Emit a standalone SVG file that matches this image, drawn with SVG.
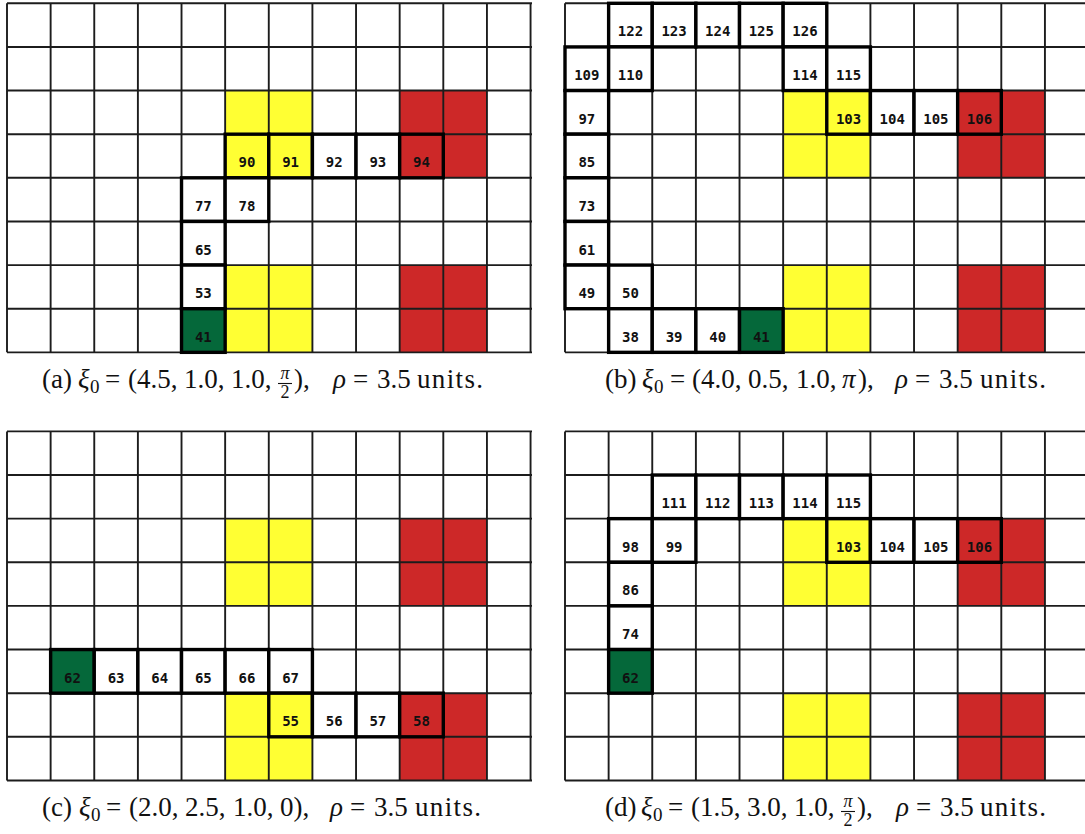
<svg xmlns="http://www.w3.org/2000/svg" xmlns:xlink="http://www.w3.org/1999/xlink" width="1085" height="834" viewBox="0 0 1085 834">
<style>
.gl{stroke:#1c1c1c;stroke-width:1.9;fill:none}
.yl{fill:#ffff33}
.rd{fill:#cd2828}
.gr{fill:#05683a}
.wh{fill:#ffffff}
.pc{stroke:#000;stroke-width:3.4}
.lb{font-family:"DejaVu Sans Mono",monospace;font-weight:bold;font-size:14px;fill:#111;text-anchor:middle}
.cap{font-family:"Liberation Serif","Times New Roman",serif;font-size:27px;fill:#111}
.it{font-style:italic}
.sb{font-size:19px}
.fr{font-size:18px;text-anchor:middle}
.bar{stroke:#111;stroke-width:1.1}
</style>
<defs>
<g id="env">
<rect class="yl" x="218.15" y="87.26" width="87.26" height="87.26"/>
<rect class="yl" x="218.15" y="261.78" width="87.26" height="87.26"/>
<rect class="rd" x="392.67" y="87.26" width="87.26" height="87.26"/>
<rect class="rd" x="392.67" y="261.78" width="87.26" height="87.26"/>
<path class="gl" d="M0 0H560M0 43.63H560M0 87.26H560M0 130.89H560M0 174.52H560M0 218.15H560M0 261.78H560M0 305.41H560M0 349.04H560
M0 0V349.04M43.63 0V349.04M87.26 0V349.04M130.89 0V349.04M174.52 0V349.04M218.15 0V349.04M261.78 0V349.04M305.41 0V349.04M349.04 0V349.04M392.67 0V349.04M436.3 0V349.04M479.93 0V349.04M523.56 0V349.04"/>
</g>
<clipPath id="clipL"><rect x="-2" y="-2" width="527" height="354"/></clipPath>
</defs>

<!-- Panel (a) -->
<g id="panel-a" transform="translate(7,3.3)">
<use xlink:href="#env" clip-path="url(#clipL)"/>
<g id="a-90"><rect class="pc yl" x="218.15" y="130.89" width="43.63" height="43.63"/><text class="lb" x="239.97" y="164">90</text></g>
<g id="a-91"><rect class="pc yl" x="261.78" y="130.89" width="43.63" height="43.63"/><text class="lb" x="283.6" y="164">91</text></g>
<g id="a-92"><rect class="pc wh" x="305.41" y="130.89" width="43.63" height="43.63"/><text class="lb" x="327.23" y="164">92</text></g>
<g id="a-93"><rect class="pc wh" x="349.04" y="130.89" width="43.63" height="43.63"/><text class="lb" x="370.86" y="164">93</text></g>
<g id="a-94"><rect class="pc rd" x="392.67" y="130.89" width="43.63" height="43.63"/><text class="lb" x="414.49" y="164">94</text></g>
<g id="a-77"><rect class="pc wh" x="174.52" y="174.52" width="43.63" height="43.63"/><text class="lb" x="196.34" y="207.6">77</text></g>
<g id="a-78"><rect class="pc wh" x="218.15" y="174.52" width="43.63" height="43.63"/><text class="lb" x="239.97" y="207.6">78</text></g>
<g id="a-65"><rect class="pc wh" x="174.52" y="218.15" width="43.63" height="43.63"/><text class="lb" x="196.34" y="251.3">65</text></g>
<g id="a-53"><rect class="pc wh" x="174.52" y="261.78" width="43.63" height="43.63"/><text class="lb" x="196.34" y="294.9">53</text></g>
<g id="a-41"><rect class="pc gr" x="174.52" y="305.41" width="43.63" height="43.63"/><text class="lb" x="196.34" y="338.5">41</text></g>
</g>

<!-- Panel (b) -->
<g id="panel-b" transform="translate(565,3.3)">
<use xlink:href="#env"/>
<g id="b-122"><rect class="pc wh" x="43.63" y="0" width="43.63" height="43.63"/><text class="lb" x="65.45" y="33.1">122</text></g>
<g id="b-123"><rect class="pc wh" x="87.26" y="0" width="43.63" height="43.63"/><text class="lb" x="109.08" y="33.1">123</text></g>
<g id="b-124"><rect class="pc wh" x="130.89" y="0" width="43.63" height="43.63"/><text class="lb" x="152.71" y="33.1">124</text></g>
<g id="b-125"><rect class="pc wh" x="174.52" y="0" width="43.63" height="43.63"/><text class="lb" x="196.34" y="33.1">125</text></g>
<g id="b-126"><rect class="pc wh" x="218.15" y="0" width="43.63" height="43.63"/><text class="lb" x="239.97" y="33.1">126</text></g>
<g id="b-109"><rect class="pc wh" x="0" y="43.63" width="43.63" height="43.63"/><text class="lb" x="21.82" y="76.7">109</text></g>
<g id="b-110"><rect class="pc wh" x="43.63" y="43.63" width="43.63" height="43.63"/><text class="lb" x="65.45" y="76.7">110</text></g>
<g id="b-114"><rect class="pc wh" x="218.15" y="43.63" width="43.63" height="43.63"/><text class="lb" x="239.97" y="76.7">114</text></g>
<g id="b-115"><rect class="pc wh" x="261.78" y="43.63" width="43.63" height="43.63"/><text class="lb" x="283.6" y="76.7">115</text></g>
<g id="b-97"><rect class="pc wh" x="0" y="87.26" width="43.63" height="43.63"/><text class="lb" x="21.82" y="120.4">97</text></g>
<g id="b-103"><rect class="pc yl" x="261.78" y="87.26" width="43.63" height="43.63"/><text class="lb" x="283.6" y="120.4">103</text></g>
<g id="b-104"><rect class="pc wh" x="305.41" y="87.26" width="43.63" height="43.63"/><text class="lb" x="327.23" y="120.4">104</text></g>
<g id="b-105"><rect class="pc wh" x="349.04" y="87.26" width="43.63" height="43.63"/><text class="lb" x="370.86" y="120.4">105</text></g>
<g id="b-106"><rect class="pc rd" x="392.67" y="87.26" width="43.63" height="43.63"/><text class="lb" x="414.49" y="120.4">106</text></g>
<g id="b-85"><rect class="pc wh" x="0" y="130.89" width="43.63" height="43.63"/><text class="lb" x="21.82" y="164">85</text></g>
<g id="b-73"><rect class="pc wh" x="0" y="174.52" width="43.63" height="43.63"/><text class="lb" x="21.82" y="207.6">73</text></g>
<g id="b-61"><rect class="pc wh" x="0" y="218.15" width="43.63" height="43.63"/><text class="lb" x="21.82" y="251.3">61</text></g>
<g id="b-49"><rect class="pc wh" x="0" y="261.78" width="43.63" height="43.63"/><text class="lb" x="21.82" y="294.9">49</text></g>
<g id="b-50"><rect class="pc wh" x="43.63" y="261.78" width="43.63" height="43.63"/><text class="lb" x="65.45" y="294.9">50</text></g>
<g id="b-38"><rect class="pc wh" x="43.63" y="305.41" width="43.63" height="43.63"/><text class="lb" x="65.45" y="338.5">38</text></g>
<g id="b-39"><rect class="pc wh" x="87.26" y="305.41" width="43.63" height="43.63"/><text class="lb" x="109.08" y="338.5">39</text></g>
<g id="b-40"><rect class="pc wh" x="130.89" y="305.41" width="43.63" height="43.63"/><text class="lb" x="152.71" y="338.5">40</text></g>
<g id="b-41"><rect class="pc gr" x="174.52" y="305.41" width="43.63" height="43.63"/><text class="lb" x="196.34" y="338.5">41</text></g>
</g>

<!-- Panel (c) -->
<g id="panel-c" transform="translate(7,431.4)">
<use xlink:href="#env" clip-path="url(#clipL)"/>
<g id="c-62"><rect class="pc gr" x="43.63" y="218.15" width="43.63" height="43.63"/><text class="lb" x="65.45" y="251.3">62</text></g>
<g id="c-63"><rect class="pc wh" x="87.26" y="218.15" width="43.63" height="43.63"/><text class="lb" x="109.08" y="251.3">63</text></g>
<g id="c-64"><rect class="pc wh" x="130.89" y="218.15" width="43.63" height="43.63"/><text class="lb" x="152.71" y="251.3">64</text></g>
<g id="c-65"><rect class="pc wh" x="174.52" y="218.15" width="43.63" height="43.63"/><text class="lb" x="196.34" y="251.3">65</text></g>
<g id="c-66"><rect class="pc wh" x="218.15" y="218.15" width="43.63" height="43.63"/><text class="lb" x="239.97" y="251.3">66</text></g>
<g id="c-67"><rect class="pc wh" x="261.78" y="218.15" width="43.63" height="43.63"/><text class="lb" x="283.6" y="251.3">67</text></g>
<g id="c-55"><rect class="pc yl" x="261.78" y="261.78" width="43.63" height="43.63"/><text class="lb" x="283.6" y="294.9">55</text></g>
<g id="c-56"><rect class="pc wh" x="305.41" y="261.78" width="43.63" height="43.63"/><text class="lb" x="327.23" y="294.9">56</text></g>
<g id="c-57"><rect class="pc wh" x="349.04" y="261.78" width="43.63" height="43.63"/><text class="lb" x="370.86" y="294.9">57</text></g>
<g id="c-58"><rect class="pc rd" x="392.67" y="261.78" width="43.63" height="43.63"/><text class="lb" x="414.49" y="294.9">58</text></g>
</g>

<!-- Panel (d) -->
<g id="panel-d" transform="translate(565,431.4)">
<use xlink:href="#env"/>
<g id="d-111"><rect class="pc wh" x="87.26" y="43.63" width="43.63" height="43.63"/><text class="lb" x="109.08" y="76.7">111</text></g>
<g id="d-112"><rect class="pc wh" x="130.89" y="43.63" width="43.63" height="43.63"/><text class="lb" x="152.71" y="76.7">112</text></g>
<g id="d-113"><rect class="pc wh" x="174.52" y="43.63" width="43.63" height="43.63"/><text class="lb" x="196.34" y="76.7">113</text></g>
<g id="d-114"><rect class="pc wh" x="218.15" y="43.63" width="43.63" height="43.63"/><text class="lb" x="239.97" y="76.7">114</text></g>
<g id="d-115"><rect class="pc wh" x="261.78" y="43.63" width="43.63" height="43.63"/><text class="lb" x="283.6" y="76.7">115</text></g>
<g id="d-98"><rect class="pc wh" x="43.63" y="87.26" width="43.63" height="43.63"/><text class="lb" x="65.45" y="120.4">98</text></g>
<g id="d-99"><rect class="pc wh" x="87.26" y="87.26" width="43.63" height="43.63"/><text class="lb" x="109.08" y="120.4">99</text></g>
<g id="d-103"><rect class="pc yl" x="261.78" y="87.26" width="43.63" height="43.63"/><text class="lb" x="283.6" y="120.4">103</text></g>
<g id="d-104"><rect class="pc wh" x="305.41" y="87.26" width="43.63" height="43.63"/><text class="lb" x="327.23" y="120.4">104</text></g>
<g id="d-105"><rect class="pc wh" x="349.04" y="87.26" width="43.63" height="43.63"/><text class="lb" x="370.86" y="120.4">105</text></g>
<g id="d-106"><rect class="pc rd" x="392.67" y="87.26" width="43.63" height="43.63"/><text class="lb" x="414.49" y="120.4">106</text></g>
<g id="d-86"><rect class="pc wh" x="43.63" y="130.89" width="43.63" height="43.63"/><text class="lb" x="65.45" y="164">86</text></g>
<g id="d-74"><rect class="pc wh" x="43.63" y="174.52" width="43.63" height="43.63"/><text class="lb" x="65.45" y="207.6">74</text></g>
<g id="d-62"><rect class="pc gr" x="43.63" y="218.15" width="43.63" height="43.63"/><text class="lb" x="65.45" y="251.3">62</text></g>
</g>

<!-- Captions -->
<g id="caption-a" class="cap">
<text y="388"><tspan x="42">(a)</tspan><tspan class="it" x="78">ξ</tspan><tspan class="sb" x="90" dy="5">0</tspan><tspan x="105" dy="-5">=</tspan><tspan x="128">(4.5,</tspan><tspan x="184">1.0,</tspan><tspan x="231">1.0,</tspan><tspan x="294">),</tspan><tspan class="it" x="333">ρ</tspan><tspan x="353">=</tspan><tspan x="377">3.5</tspan><tspan x="417" textLength="66" lengthAdjust="spacing">units.</tspan></text>
<text class="fr it" x="285" y="379">π</text>
<line class="bar" x1="278" y1="383.5" x2="292" y2="383.5"/>
<text class="fr" x="285" y="398">2</text>
</g>
<g id="caption-b" class="cap">
<text y="388"><tspan x="605">(b)</tspan><tspan class="it" x="642">ξ</tspan><tspan class="sb" x="654" dy="5">0</tspan><tspan x="670" dy="-5">=</tspan><tspan x="692">(4.0,</tspan><tspan x="748">0.5,</tspan><tspan x="796">1.0,</tspan><tspan class="it" x="842">π</tspan><tspan x="858">),</tspan><tspan class="it" x="895">ρ</tspan><tspan x="915">=</tspan><tspan x="939">3.5</tspan><tspan x="980" textLength="66" lengthAdjust="spacing">units.</tspan></text>
</g>
<g id="caption-c" class="cap">
<text y="816"><tspan x="42">(c)</tspan><tspan class="it" x="79">ξ</tspan><tspan class="sb" x="91" dy="5">0</tspan><tspan x="106" dy="-5">=</tspan><tspan x="129">(2.0,</tspan><tspan x="185">2.5,</tspan><tspan x="233">1.0,</tspan><tspan x="280">0),</tspan><tspan class="it" x="330">ρ</tspan><tspan x="350">=</tspan><tspan x="374">3.5</tspan><tspan x="415" textLength="66" lengthAdjust="spacing">units.</tspan></text>
</g>
<g id="caption-d" class="cap">
<text y="816"><tspan x="605">(d)</tspan><tspan class="it" x="641">ξ</tspan><tspan class="sb" x="653" dy="5">0</tspan><tspan x="668" dy="-5">=</tspan><tspan x="691">(1.5,</tspan><tspan x="747">3.0,</tspan><tspan x="794">1.0,</tspan><tspan x="857">),</tspan><tspan class="it" x="896">ρ</tspan><tspan x="916">=</tspan><tspan x="940">3.5</tspan><tspan x="980" textLength="66" lengthAdjust="spacing">units.</tspan></text>
<text class="fr it" x="848" y="807">π</text>
<line class="bar" x1="841" y1="811.5" x2="855" y2="811.5"/>
<text class="fr" x="848" y="826">2</text>
</g>
</svg>
